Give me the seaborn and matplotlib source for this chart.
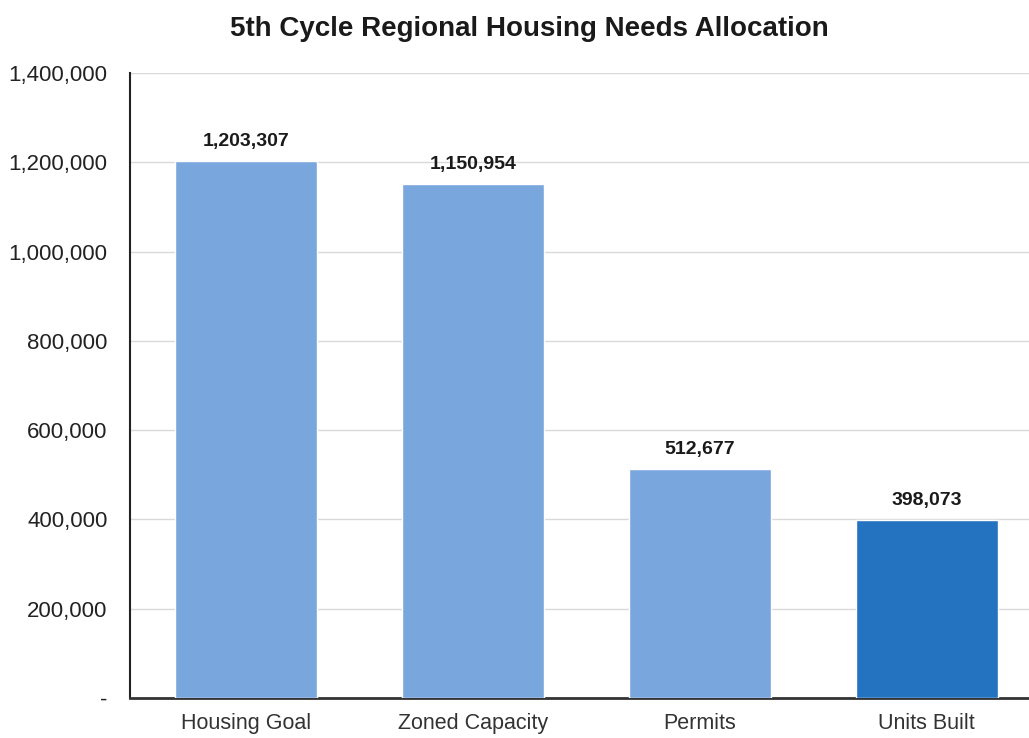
import matplotlib
matplotlib.use("Agg")
import matplotlib.pyplot as plt
import seaborn as sns
import pandas as pd

categories = ["Housing Goal", "Zoned Capacity", "Permits", "Units Built"]
units = [1203307, 1150954, 512677, 398073]
bar_colors = ["#7aa6de", "#7aa6de", "#7aa6de", "#2473c1"]

df = pd.DataFrame({"category": categories, "units": units})

sns.set_style("white")
plt.rcParams["font.family"] = ["Liberation Sans", "DejaVu Sans"]

fig = plt.figure(figsize=(10.29, 7.38), dpi=100)
ax = fig.add_axes([0.1263, 0.0542, 0.8737, 0.8469])

sns.barplot(data=df, x="category", y="units", hue="category",
            palette=bar_colors, legend=False, width=0.625,
            saturation=1, ax=ax, zorder=3)

ax.set_ylim(0, 1400000)
ax.set_xlim(-0.51, 3.45)
ticks = list(range(0, 1400001, 200000))
ax.set_yticks(ticks)
ax.set_yticklabels(["-" if t == 0 else f"{t:,}" for t in ticks], fontsize=16)
ax.yaxis.grid(True, color="#d9d9d9", linewidth=1, zorder=0)
ax.set_axisbelow(True)

for s in ["top", "right"]:
    ax.spines[s].set_visible(False)
ax.spines["left"].set_color("#222222")
ax.spines["left"].set_linewidth(1.5)
ax.spines["bottom"].set_color("#333333")
ax.spines["bottom"].set_linewidth(2)
ax.tick_params(axis="y", direction="out", length=5, width=1.2, colors="#222222", pad=11)
ax.tick_params(axis="x", length=0, pad=11, labelsize=15.5, colors="#333333")
ax.set_xlabel("")
ax.set_ylabel("")

for i, v in enumerate(units):
    ax.text(i, v + 25000, f"{v:,}", ha="center", va="bottom",
            fontsize=14, fontweight="bold", color="#1a1a1a")

fig.suptitle("5th Cycle Regional Housing Needs Allocation", x=0.514, y=0.978,
             fontsize=20, fontweight="bold", color="#1a1a1a")

fig.savefig("out.png", dpi=100)
